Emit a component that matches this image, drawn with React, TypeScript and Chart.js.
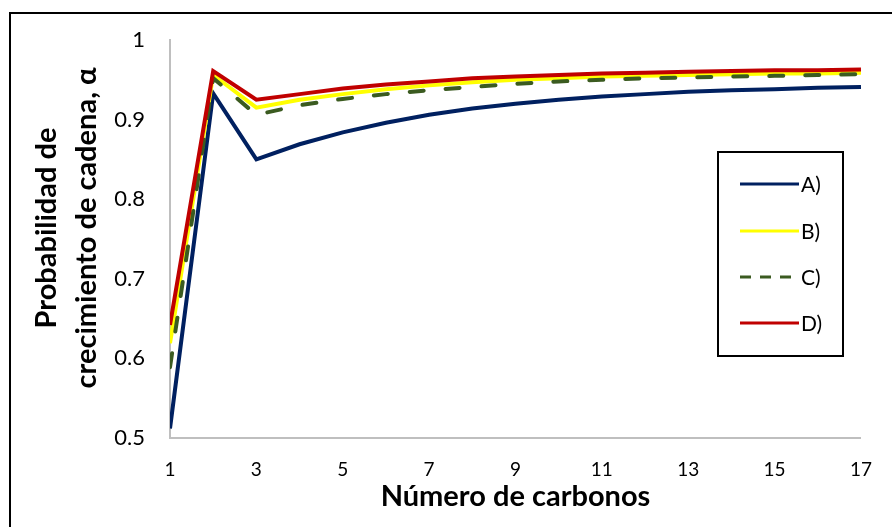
import React, { useEffect, useRef } from "react";
import { Chart, registerables } from "chart.js";

Chart.register(...registerables);

// Carbon number (x) and chain-growth probability for each case
const carbonNumbers = [1, 2, 3, 4, 5, 6, 7, 8, 9, 10, 11, 12, 13, 14, 15, 16, 17];
const alphaA = [0.512, 0.933, 0.85, 0.869, 0.884, 0.896, 0.906, 0.914, 0.92, 0.925, 0.929, 0.932, 0.935, 0.937, 0.938, 0.94, 0.941];
const alphaB = [0.619, 0.956, 0.915, 0.925, 0.932, 0.938, 0.943, 0.947, 0.95, 0.952, 0.954, 0.955, 0.956, 0.957, 0.958, 0.958, 0.959];
const alphaC = [0.589, 0.952, 0.906, 0.918, 0.926, 0.932, 0.937, 0.941, 0.945, 0.948, 0.95, 0.952, 0.953, 0.954, 0.955, 0.956, 0.957];
const alphaD = [0.642, 0.961, 0.925, 0.932, 0.939, 0.944, 0.948, 0.952, 0.954, 0.956, 0.958, 0.959, 0.96, 0.961, 0.962, 0.962, 0.963];
const seriesNames = ["A)", "B)", "C)", "D)"];
const xTitle = "Número de carbonos";
const yTitleLines = ["Probabilidad de", "crecimiento de cadena, α"];

const FONT = "Lato, 'Open Sans', sans-serif";

const toPoints = (ys: number[]) => carbonNumbers.map((x, i) => ({ x, y: ys[i] }));

// Frame, rotated y-axis title and boxed legend drawn straight on the canvas
const decorations = {
  id: "decorations",
  beforeDraw(chart: any) {
    const ctx = chart.ctx;
    ctx.save();
    ctx.strokeStyle = "#000";
    ctx.lineWidth = 2;
    ctx.strokeRect(10, 13, chart.width + 20, chart.height + 20);
    ctx.restore();
  },
  afterDraw(chart: any) {
    const ctx = chart.ctx;
    // y-axis title, two centred lines
    ctx.save();
    ctx.fillStyle = "#000";
    ctx.font = `bold 29px ${FONT}`;
    ctx.textAlign = "center";
    ctx.textBaseline = "alphabetic";
    const cy = 228;
    const baselines = [56, 96];
    yTitleLines.forEach((line, i) => {
      ctx.save();
      ctx.translate(baselines[i], cy);
      ctx.rotate(-Math.PI / 2);
      ctx.fillText(line, 0, 0);
      ctx.restore();
    });
    ctx.restore();

    // legend box
    const box = { x: 718, y: 152, w: 125, h: 204 };
    ctx.save();
    ctx.strokeStyle = "#000";
    ctx.lineWidth = 2;
    ctx.strokeRect(box.x, box.y, box.w, box.h);
    const rows = [184, 231, 277, 323];
    chart.data.datasets.forEach((ds: any, i: number) => {
      const y = rows[i];
      const dashed = ds.borderDash && ds.borderDash.length;
      ctx.beginPath();
      ctx.strokeStyle = ds.borderColor;
      ctx.lineWidth = 3;
      ctx.lineCap = "butt";
      ctx.setLineDash(dashed ? [11, 9] : []);
      ctx.moveTo(740, y);
      ctx.lineTo(799, y);
      ctx.stroke();
      ctx.setLineDash([]);
      ctx.fillStyle = "#000";
      ctx.font = `21px ${FONT}`;
      ctx.textAlign = "left";
      ctx.textBaseline = "middle";
      ctx.fillText(ds.label, 801, y + 1);
    });
    ctx.restore();
  },
};

export default function App() {
  const canvasRef = useRef<HTMLCanvasElement | null>(null);

  useEffect(() => {
    if (!canvasRef.current) return;
    const chart = new Chart(canvasRef.current, {
      type: "line",
      data: {
        datasets: [
          { label: seriesNames[0], data: toPoints(alphaA), borderColor: "#002060", order: 4 },
          { label: seriesNames[1], data: toPoints(alphaB), borderColor: "#FFFF00", order: 3 },
          { label: seriesNames[2], data: toPoints(alphaC), borderColor: "#3B5B20", order: 2, borderDash: [14, 22], borderCapStyle: "round" },
          { label: seriesNames[3], data: toPoints(alphaD), borderColor: "#C00000", order: 1 },
        ].map((d: any) => ({
          borderWidth: 4,
          pointRadius: 0,
          pointHoverRadius: 0,
          tension: 0,
          fill: false,
          borderJoinStyle: "miter",
          ...d,
        })),
      },
      options: {
        animation: false,
        responsive: false,
        maintainAspectRatio: false,
        layout: { padding: { left: 0, right: 27, top: 40, bottom: 0 } },
        plugins: {
          legend: { display: false },
          tooltip: { enabled: false },
        },
        scales: {
          x: {
            type: "linear",
            min: 1,
            max: 17,
            ticks: {
              stepSize: 2,
              color: "#000",
              font: { family: FONT, size: 19 },
              padding: 20,
            },
            grid: { display: false, drawTicks: false },
            border: { color: "#BFBFBF", width: 2 },
            title: {
              display: true,
              text: xTitle,
              color: "#000",
              font: { family: FONT, size: 29, weight: "bold" },
              padding: { top: 0, bottom: 13 },
            },
            afterFit(scale: any) {
              scale.height = 527 - 438;
            },
          },
          y: {
            min: 0.5,
            max: 1,
            ticks: {
              stepSize: 0.1,
              color: "#000",
              font: { family: FONT, size: 22 },
              padding: 25,
              callback: (v: any) => String(Number(Number(v).toFixed(1))),
            },
            grid: { display: false, drawTicks: false },
            border: { color: "#BFBFBF", width: 2 },
            afterFit(scale: any) {
              scale.width = 170;
            },
          },
        },
      },
      plugins: [decorations],
    });
    return () => chart.destroy();
  }, []);

  return (
    <div style={{ position: "fixed", left: 0, top: 0, width: 892, height: 527, overflow: "hidden", background: "#fff" }}>
      <canvas ref={canvasRef} width={892} height={527} style={{ display: "block", width: 892, height: 527 }} />
    </div>
  );
}
